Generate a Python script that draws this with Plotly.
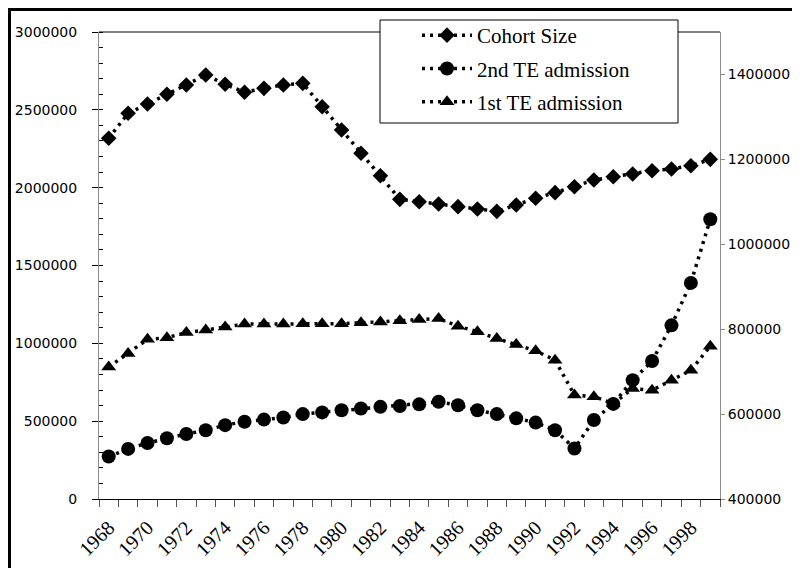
import plotly.graph_objects as go

years = list(range(1968, 2000))

cohort_size = [
    2317000, 2478000, 2537000, 2600000, 2660000, 2724000, 2664000, 2613000,
    2638000, 2660000, 2670000, 2520000, 2370000, 2221000, 2077000, 1925000,
    1910000, 1895000, 1878000, 1863000, 1848000, 1889000, 1932000, 1968000,
    2006000, 2049000, 2070000, 2088000, 2109000, 2120000, 2141000, 2182000,
]

second_te = [
    500000, 518000, 532000, 543000, 553000, 562000, 574000, 582000,
    587000, 592000, 600000, 604000, 609000, 613000, 617000, 619000,
    623000, 629000, 621000, 609000, 600000, 590000, 580000, 562000,
    519000, 586000, 624000, 680000, 725000, 809000, 909000, 1059000,
]

first_te = [
    711000, 743000, 776000, 780000, 792000, 798000, 805000, 812000,
    812000, 812000, 813000, 813000, 813000, 815000, 817000, 820000,
    823000, 825000, 807000, 794000, 778000, 764000, 749000, 727000,
    645000, 641000, 625000, 660000, 656000, 680000, 703000, 760000,
]

label_years = list(range(1968, 1999, 2))

# the page puts the figure 8px in from the window corner, so the figure is
# 8px smaller and everything sits 8px up/left of the reference pixels
OFF = 8
W, H = 800 - OFF, 568 - OFF
L, T = 99 - OFF, 32 - OFF
PW, PH = 621, 467
R, B = W - L - PW, H - T - PH


def px(x):
    # reference window x -> paper x
    return (x - OFF - L) / PW


def py(y):
    # reference window y -> paper y
    return (T + PH - (y - OFF)) / PH


dots = "3px,5px"
tick_font = dict(family="DejaVu Sans", size=14, color="black")
year_font = dict(family="Liberation Serif", size=20, color="black")

fig = go.Figure()

fig.add_trace(go.Scatter(
    x=years, y=cohort_size, name="Cohort Size",
    mode="lines+markers",
    line=dict(color="black", width=3.5, dash=dots),
    marker=dict(symbol="diamond", size=12, color="black"),
    legendgroup="a",
))
fig.add_trace(go.Scatter(
    x=years, y=second_te, name="2nd TE admission", yaxis="y2",
    mode="lines+markers",
    line=dict(color="black", width=3.5, dash=dots),
    marker=dict(symbol="circle", size=14, color="black"),
    legendgroup="b",
))
fig.add_trace(go.Scatter(
    x=years, y=first_te, name="1st TE admission", yaxis="y2",
    mode="lines+markers",
    line=dict(color="black", width=3.5, dash=dots),
    marker=dict(symbol="triangle-up", size=13, color="black"),
    legendgroup="c",
))

xrange = [1967.5, 1999.5]

fig.update_layout(
    width=W, height=H,
    margin=dict(l=L, r=R, t=T, b=B, autoexpand=False),
    paper_bgcolor="white", plot_bgcolor="white",
    font=tick_font,
    xaxis=dict(
        range=xrange, tickvals=label_years, tickangle=-45, ticks="",
        showgrid=False, zeroline=False, showline=True, linecolor="black",
        linewidth=1, tickfont=year_font, ticklabelstandoff=8,
        automargin=False,
        minor=dict(tick0=1967.5, dtick=1, ticks="outside", ticklen=7,
                   tickcolor="#555555", tickwidth=1, showgrid=False),
    ),
    xaxis3=dict(
        range=xrange, overlaying="x", anchor="y", tick0=1967.5, dtick=1,
        ticks="inside", ticklen=4, tickcolor="#555555", showticklabels=False,
        showgrid=False, zeroline=False, showline=False, automargin=False,
    ),
    yaxis=dict(
        range=[0, 3000000], dtick=500000, tickformat="d", ticks="outside",
        ticklen=6, tickcolor="black", showgrid=False, zeroline=False,
        showline=True, linecolor="#8c8c8c", linewidth=1, tickfont=tick_font,
        ticklabelstandoff=12, automargin=False,
        minor=dict(dtick=100000, ticks="inside", ticklen=4, tickcolor="black",
                   showgrid=False),
    ),
    yaxis3=dict(
        range=[0, 3000000], dtick=500000, overlaying="y", anchor="x",
        side="left", ticks="inside", ticklen=6, tickcolor="black",
        showticklabels=False, showgrid=False, zeroline=False, showline=False,
        automargin=False,
    ),
    yaxis2=dict(
        range=[400000, 1500000], tick0=400000, dtick=200000, tickformat="d",
        overlaying="y", side="right", anchor="x", ticks="outside", ticklen=4,
        tickcolor="#8c8c8c", showgrid=False, zeroline=False, showline=True,
        linecolor="#8c8c8c", linewidth=1, tickfont=tick_font,
        automargin=False,
    ),
    legend=dict(
        xref="container", yref="container",
        x=(417 - OFF) / W, y=1 - (15 - OFF) / H,
        xanchor="left", yanchor="top",
        bgcolor="rgba(0,0,0,0)", borderwidth=0,
        font=dict(family="Liberation Serif", size=21, color="black"),
        itemwidth=50, tracegroupgap=3, traceorder="grouped",
    ),
    showlegend=True,
    shapes=[
        # top border of plot area
        dict(type="line", xref="paper", yref="paper", x0=0, x1=1, y0=1, y1=1,
             line=dict(color="black", width=1)),
        # legend box
        dict(type="rect", xref="paper", yref="paper",
             x0=px(380), x1=px(678), y0=py(123), y1=py(20),
             fillcolor="white", line=dict(color="black", width=1),
             layer="above"),
        # outer frame (top and left edges)
        dict(type="line", xref="paper", yref="paper",
             x0=px(8), x1=px(820), y0=py(9.5), y1=py(9.5),
             line=dict(color="black", width=3), layer="above"),
        dict(type="line", xref="paper", yref="paper",
             x0=px(9.5), x1=px(9.5), y0=py(8), y1=py(620),
             line=dict(color="black", width=3), layer="above"),
    ],
)

fig.write_html("out.html")
